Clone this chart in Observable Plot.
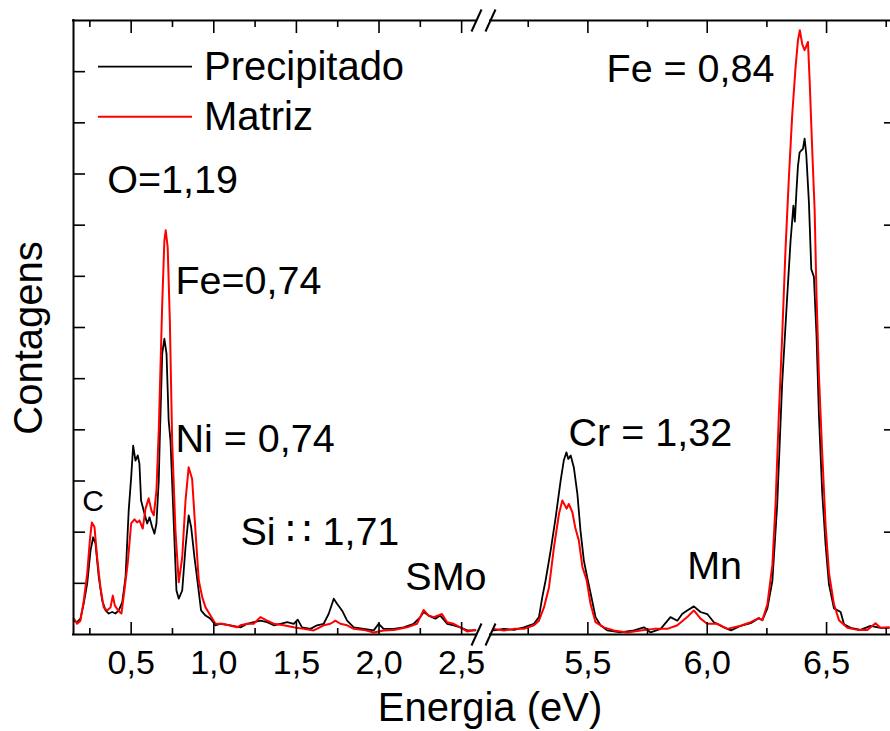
<!DOCTYPE html>
<html><head><meta charset="utf-8">
<script src="https://cdn.jsdelivr.net/npm/d3@7"></script>
<script src="https://cdn.jsdelivr.net/npm/@observablehq/plot@0.6"></script>
<style>body{margin:0;background:#fff}#chart{width:890px;height:731px}</style>
</head><body><div id="chart"></div>
<script>
// ---------- data ----------
const seriesNames = ["Precipitado", "Matriz"];
const seriesColors = ["#000000", "#ff0000"];

const precipE = [0.153,0.173,0.193,0.213,0.234,0.254,0.270,0.284,0.304,0.325,0.345,0.364,0.385,0.405,0.425,0.446,0.466,0.485,0.500,0.512,0.526,0.540,0.550,0.560,0.576,0.597,0.611,0.627,0.641,0.653,0.667,0.673,0.688,0.701,0.714,0.727,0.738,0.762,0.774,0.788,0.809,0.829,0.848,0.863,0.883,0.903,0.923,0.950,0.980,1.010,1.040,1.101,1.161,1.202,1.242,1.282,1.323,1.363,1.403,1.444,1.484,1.508,1.534,1.585,1.625,1.665,1.695,1.716,1.726,1.746,1.776,1.807,1.847,1.907,1.968,1.998,2.028,2.089,2.149,2.210,2.250,2.270,2.300,2.341,2.371,2.412,2.452,2.492,2.533,2.583,
  5.106,5.148,5.190,5.232,5.274,5.295,5.309,5.323,5.344,5.365,5.386,5.399,5.410,5.418,5.428,5.441,5.456,5.469,5.483,5.497,5.518,5.532,5.553,5.581,5.637,5.693,5.735,5.763,5.805,5.846,5.875,5.895,5.916,5.944,5.972,6.000,6.028,6.070,6.100,6.140,6.182,6.216,6.231,6.252,6.273,6.293,6.314,6.335,6.349,6.361,6.367,6.374,6.380,6.387,6.394,6.401,6.408,6.415,6.426,6.436,6.447,6.458,6.468,6.482,6.496,6.510,6.531,6.559,6.573,6.601,6.642,6.684,6.726,6.761];
const precipC = [27,24,31,61,100,164,190,178,112,66,47,41,44,41,47,63,112,242,307,369,340,350,334,262,242,217,229,210,197,217,301,379,549,578,549,418,379,184,86,70,86,171,233,210,151,100,47,37,31,18,21,18,14,21,24,27,24,18,21,24,21,29,14,11,18,21,40,60,70,60,47,27,14,11,8,21,11,11,14,21,34,44,37,31,37,21,18,14,8,8,
  8,11,9,14,21,34,73,106,164,229,301,340,356,343,350,327,275,203,145,112,66,34,18,8,4,8,14,4,11,34,27,40,47,55,44,40,24,14,8,17,22,32,28,51,105,252,491,660,768,838,807,868,915,942,946,949,969,938,845,714,699,583,429,275,175,98,51,44,20,13,9,17,13,13];

const matrizE = [0.153,0.173,0.193,0.213,0.234,0.250,0.262,0.278,0.294,0.314,0.334,0.355,0.375,0.389,0.401,0.421,0.441,0.459,0.479,0.500,0.520,0.536,0.550,0.570,0.587,0.606,0.623,0.637,0.653,0.667,0.688,0.701,0.709,0.721,0.734,0.748,0.768,0.788,0.809,0.829,0.848,0.869,0.889,0.909,0.930,0.950,0.980,1.010,1.051,1.090,1.141,1.161,1.202,1.242,1.282,1.323,1.363,1.423,1.484,1.544,1.605,1.665,1.706,1.736,1.766,1.807,1.847,1.907,1.968,2.028,2.089,2.170,2.230,2.270,2.300,2.331,2.381,2.412,2.452,2.492,2.533,2.583,
  5.106,5.148,5.190,5.232,5.274,5.295,5.316,5.337,5.358,5.379,5.393,5.411,5.420,5.435,5.448,5.462,5.477,5.495,5.511,5.532,5.567,5.609,5.665,5.721,5.777,5.833,5.875,5.916,5.944,5.972,6.000,6.042,6.084,6.140,6.182,6.216,6.231,6.252,6.273,6.286,6.300,6.314,6.328,6.342,6.356,6.370,6.380,6.388,6.398,6.408,6.415,6.422,6.429,6.440,6.450,6.458,6.468,6.482,6.496,6.510,6.531,6.552,6.587,6.629,6.671,6.705,6.726,6.761];
const matrizC = [31,21,27,66,119,184,219,210,151,92,53,47,53,76,57,47,41,86,139,217,225,219,223,207,246,266,242,233,281,399,647,770,790,757,614,379,203,102,151,262,327,304,203,106,73,53,37,21,21,18,14,18,21,21,34,27,21,18,14,11,8,18,21,27,21,18,11,9,4,8,9,14,21,48,37,34,40,24,21,14,6,9,
  11,8,11,11,18,27,53,92,171,236,262,246,255,239,207,184,132,106,60,24,14,8,4,8,11,11,18,34,47,31,21,21,11,17,24,32,28,59,136,252,429,583,753,892,1015,1108,1161,1181,1154,1142,1150,1158,1084,946,830,661,506,352,213,121,59,28,13,9,9,22,13,14];

// broken energy axis: [left start, left end, right start, right end]
const xBreak = [0.151, 2.59, 5.092, 6.793];
const yDomain = [0, 1200];
const majorTicks = [0.5, 1.0, 1.5, 2.0, 2.5, 5.5, 6.0, 6.5];
const minorTicks = [0.25, 0.75, 1.25, 1.75, 2.25, 5.25, 5.75, 6.25, 6.75];
const yTicks = [100, 200, 300, 400, 500, 600, 700, 800, 900, 1000, 1100];
const yTicksRight = [200, 400, 600, 800, 1000];

const annLabels = ["O=1,19", "Fe=0,74", "Ni = 0,74", "Si \u2237 1,71", "SMo", "Cr = 1,32", "Mn", "Fe = 0,84"];
const annE = [0.355, 0.768, 0.768, 1.161, 2.159, 5.419, 5.916, 5.578];
const annC = [862, 666, 356, 174, 86, 369, 109, 1079];
const smallLabels = ["C"];
const smallE = [0.204];
const smallC = [242];

const xLabel = "Energia (eV)";
const yLabel = "Contagens";

// ---------- layout ----------
const W = 890, H = 731;
const xPix = [73, 476, 490, 896];   // pixel positions of the break points
const yRange = [634, 20];
const FONT = "'Liberation Sans', Arial, Helvetica, sans-serif";

// broken-axis coordinate: left piece keeps eV units, gap and right piece are rescaled
const pxPerUnit = (xPix[1] - xPix[0]) / (xBreak[1] - xBreak[0]);
const uBreak = xPix.map(p => xBreak[0] + (p - xPix[0]) / pxPerUnit);
const brk = d3.scaleLinear().domain(xBreak).range(uBreak);   // eV -> axis units (piecewise)
const uDomain = [uBreak[0], uBreak[3]];
const uRange = [xPix[0], xPix[3]];
const lin = d3.scaleLinear().domain(uDomain).range(uRange);
const X = e => brk(e);
const xOff = (e, p) => lin.invert(lin(brk(e)) + p);   // returns axis units
const ys = d3.scaleLinear().domain(yDomain).range(yRange);
const yOff = (v, p) => ys.invert(ys(v) + p);

function rows(name, E, C) {
  return E.map((e, i) => ({series: name, seg: e < 4 ? 0 : 1, u: X(e), C: C[i]}));
}
const blackRows = rows(seriesNames[0], precipE, precipC);
const redRows = rows(seriesNames[1], matrizE, matrizC);

const breaks = [];
for (const b of [xBreak[1], xBreak[2]]) for (const yv of yDomain)
  breaks.push({x1: xOff(b, -5), x2: xOff(b, 5), y1: yOff(yv, 11), y2: yOff(yv, -11)});

const fmt = d => d.toFixed(1).replace(".", ",");
const ann = annLabels.map((t, i) => ({t, u: X(annE[i]), C: annC[i]}));
const annSmall = smallLabels.map((t, i) => ({t, u: X(smallE[i]), C: smallC[i]}));

const frame = {stroke: "#000", strokeWidth: 2, strokeLinecap: "square"};
const tick = {stroke: "#000", strokeWidth: 1.6};

const chart = Plot.plot({
  width: W, height: H,
  marginLeft: 0, marginRight: 0, marginTop: 0, marginBottom: 0,
  style: {fontFamily: FONT, background: "#fff", overflow: "visible"},
  x: {type: "linear", domain: uDomain, range: uRange, axis: null},
  y: {type: "linear", domain: yDomain, range: yRange, axis: null},
  marks: [
    Plot.line(blackRows, {x: "u", y: "C", z: "seg", stroke: seriesColors[0], strokeWidth: 1.8, strokeLinejoin: "round"}),
    Plot.line(redRows, {x: "u", y: "C", z: "seg", stroke: seriesColors[1], strokeWidth: 2, strokeLinejoin: "round"}),
    // frame
    Plot.ruleY(yDomain, {y: d => d, x1: X(xBreak[0]), x2: X(xBreak[1]), ...frame}),
    Plot.ruleY(yDomain, {y: d => d, x1: X(xBreak[2]), x2: X(xBreak[3]), ...frame}),
    Plot.ruleX([xBreak[0], xBreak[3]], {x: d => X(d), y1: yDomain[0], y2: yDomain[1], ...frame}),
    // x ticks bottom & top
    Plot.ruleX(majorTicks, {x: d => X(d), y1: yDomain[0], y2: yOff(yDomain[0], -12), ...tick}),
    Plot.ruleX(minorTicks, {x: d => X(d), y1: yDomain[0], y2: yOff(yDomain[0], -6), ...tick}),
    Plot.ruleX(majorTicks, {x: d => X(d), y1: yDomain[1], y2: yOff(yDomain[1], 13), ...tick}),
    Plot.ruleX(minorTicks, {x: d => X(d), y1: yDomain[1], y2: yOff(yDomain[1], 7), ...tick}),
    // y ticks left & right
    Plot.ruleY(yTicks, {y: d => d, x1: X(xBreak[0]), x2: xOff(xBreak[0], 12), ...tick}),
    Plot.ruleY(yTicksRight, {y: d => d, x1: xOff(xBreak[3], -12), x2: X(xBreak[3]), ...tick}),
    // axis break marks
    Plot.link(breaks, {x1: "x1", y1: "y1", x2: "x2", y2: "y2", stroke: "#000", strokeWidth: 2}),
    // tick labels
    Plot.text(majorTicks, {x: d => X(d), y: yDomain[0], text: fmt, dy: 39, lineAnchor: "bottom", fontSize: 34, fill: "#000"}),
    // annotations
    Plot.text(ann, {x: "u", y: "C", text: "t", textAnchor: "start", lineAnchor: "bottom", fontSize: 39.5, fill: "#000"}),
    Plot.text(annSmall, {x: "u", y: "C", text: "t", textAnchor: "start", lineAnchor: "bottom", fontSize: 30, fill: "#000"})
  ]
});

const svg = d3.select(chart);
// axis titles
svg.append("text").attr("x", 490).attr("y", 721).attr("text-anchor", "middle")
  .attr("font-family", FONT).attr("font-size", 40).attr("fill", "#000").text(xLabel);
svg.append("text").attr("transform", "translate(42,338) rotate(-90)").attr("text-anchor", "middle")
  .attr("font-family", FONT).attr("font-size", 40).attr("fill", "#000").text(yLabel);
// legend
const leg = svg.append("g");
seriesNames.forEach((name, i) => {
  const y = 66.7 + i * 50;
  leg.append("line").attr("x1", 98).attr("x2", 192).attr("y1", y).attr("y2", y)
    .attr("stroke", seriesColors[i]).attr("stroke-width", i ? 2 : 1.8);
  leg.append("text").attr("x", 204).attr("y", y + 13.5).attr("text-anchor", "start")
    .attr("font-family", FONT).attr("font-size", 40).attr("fill", "#000").text(name);
});

document.getElementById("chart").appendChild(chart);
</script></body></html>
